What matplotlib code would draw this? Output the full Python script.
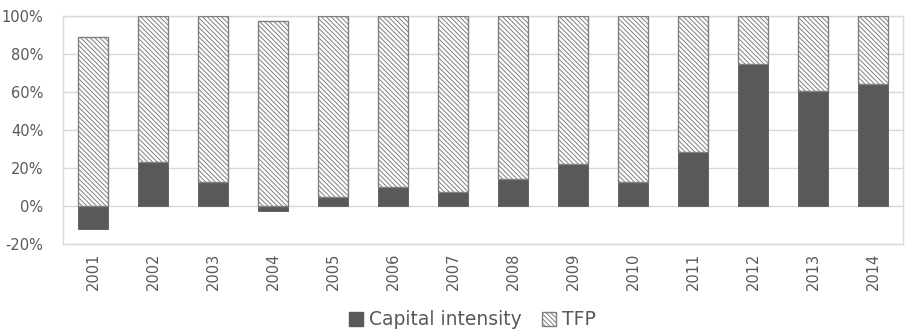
import matplotlib
matplotlib.use("Agg")
import matplotlib.pyplot as plt
import numpy as np
from matplotlib.patches import Patch
from matplotlib.ticker import FuncFormatter

years = ["2001", "2002", "2003", "2004", "2005", "2006", "2007",
         "2008", "2009", "2010", "2011", "2012", "2013", "2014"]
capital_intensity = [-12, 23, 12.5, -2.5, 5, 10, 7.5, 14, 22, 12.5, 28.5, 75, 60.5, 64]
tfp = [89, 77, 87.5, 97.5, 95, 90, 92.5, 86, 78, 87.5, 71.5, 25, 39.5, 36]

plt.rcParams['font.family'] = ['DejaVu Sans']
plt.rcParams['hatch.color'] = '#a6a6a6'
plt.rcParams['hatch.linewidth'] = 0.7

HATCH = '\\' * 7

fig = plt.figure(figsize=(9.17, 3.33), dpi=100)
ax = fig.add_axes([0.0687, 0.267, 0.916, 0.685])

x = np.arange(len(years))
cap = np.array(capital_intensity)
tf = np.array(tfp)
# positive parts stack from zero; negative values hang below the axis
tfp_base = np.where(cap > 0, cap, 0)

ax.bar(x, cap, width=0.5, color='#595959', edgecolor='#595959', linewidth=0.6, zorder=3)
ax.bar(x, tf, width=0.5, bottom=tfp_base, color='white', edgecolor='#7f7f7f',
       hatch=HATCH, linewidth=1.0, zorder=3)

ax.set_xlim(-0.5, len(years) - 0.5)
ax.set_ylim(-20, 100)
ax.set_yticks(np.arange(-20, 101, 20))
ax.yaxis.set_major_formatter(FuncFormatter(lambda v, p: f"{int(v)}%"))
ax.set_xticks(x)
ax.set_xticklabels(years, rotation=90)
ax.tick_params(axis='both', length=0, colors='#595959', labelsize=10.5)
ax.tick_params(axis='x', pad=6)
ax.tick_params(axis='y', pad=14)
for lbl in ax.get_yticklabels():
    lbl.set_horizontalalignment('right')

ax.grid(axis='y', color='#d9d9d9', linewidth=1.0, zorder=0)
for s in ax.spines.values():
    s.set_color('#d9d9d9')
    s.set_linewidth(1.0)

handles = [Patch(facecolor='#595959', edgecolor='#595959', label='Capital intensity'),
           Patch(facecolor='white', edgecolor='#7f7f7f', hatch=HATCH, label='TFP')]
fig.legend(handles=handles, loc='center', bbox_to_anchor=(0.515, 0.04), ncol=2,
           frameon=False, fontsize=13.5, handlelength=0.75, handleheight=0.75,
           handletextpad=0.3, columnspacing=1.1, labelcolor='#595959')

fig.savefig("out.png", dpi=100)
